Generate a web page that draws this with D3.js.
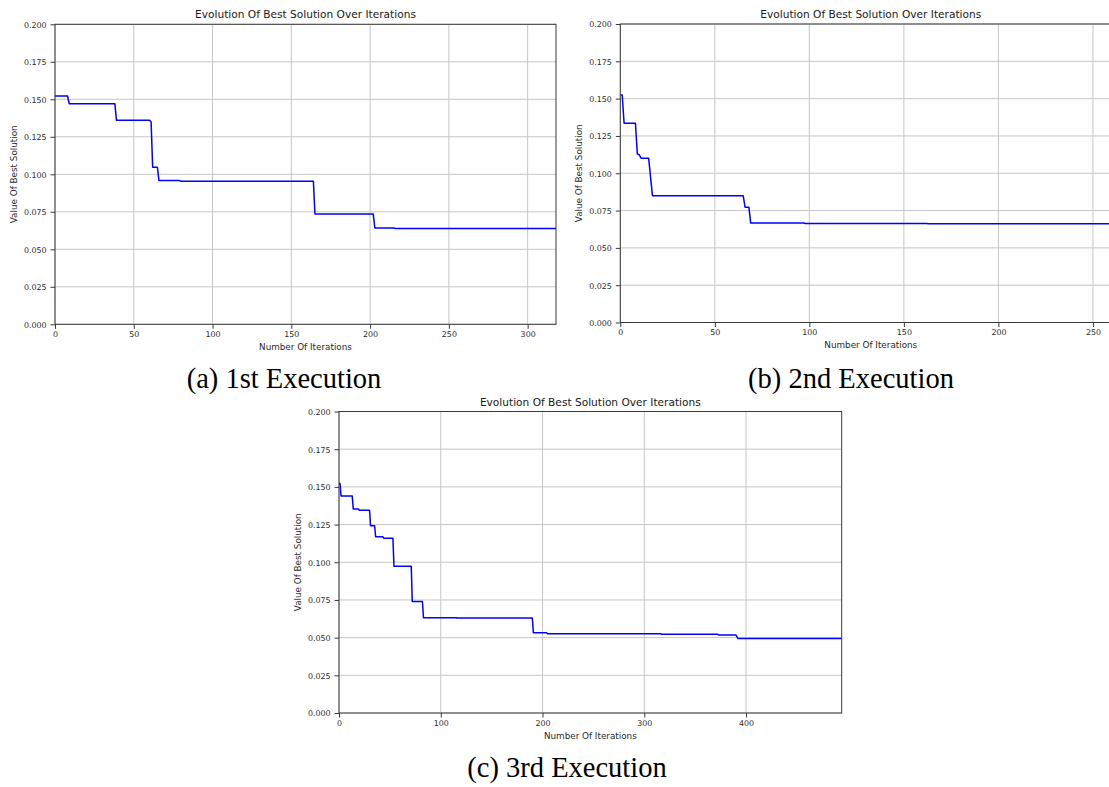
<!DOCTYPE html>
<html>
<head>
<meta charset="utf-8">
<script src="https://cdn.jsdelivr.net/npm/d3@7/dist/d3.min.js"></script>
<style>
  html, body { margin: 0; padding: 0; background: #ffffff; }
  svg { display: block; }
</style>
</head>
<body>
<svg id="fig" width="1109" height="787"></svg>
<script>
// Best-so-far objective value at the iterations where it changes (three executions)
const run1Iter = [0, 8, 9, 38, 39, 60, 61, 62, 65, 66, 79, 80, 164, 165, 202, 203, 215, 216, 318];
const run1Best = [0.1522, 0.1522, 0.1471, 0.1471, 0.1361, 0.1361, 0.1349, 0.1047, 0.1047, 0.0958, 0.0958, 0.0954, 0.0954, 0.0736, 0.0736, 0.0642, 0.0642, 0.0639, 0.0639];

const run2Iter = [0, 1, 2, 8, 9, 10, 11, 15, 16, 17, 65, 66, 68, 69, 97, 98, 162, 163, 265];
const run2Best = [0.1525, 0.1525, 0.1335, 0.1335, 0.1130, 0.1124, 0.1101, 0.1101, 0.0975, 0.0850, 0.0850, 0.0773, 0.0773, 0.0666, 0.0666, 0.0663, 0.0663, 0.0661, 0.0661];

const run3Iter = [0, 1, 2, 13, 14, 19, 20, 30, 31, 35, 36, 43, 44, 53, 54, 71, 72, 82, 83, 115, 116, 190, 191, 204, 205, 316, 317, 372, 373, 390, 392, 494];
const run3Best = [0.1522, 0.1522, 0.1440, 0.1440, 0.1354, 0.1354, 0.1345, 0.1345, 0.1242, 0.1242, 0.1169, 0.1169, 0.1160, 0.1160, 0.0974, 0.0974, 0.0740, 0.0740, 0.0632, 0.0632, 0.0630, 0.0630, 0.0533, 0.0533, 0.0526, 0.0526, 0.0522, 0.0522, 0.0518, 0.0518, 0.0495, 0.0495];

// Axis extents and tick labels
const runMaxIter = [318, 265, 494];
const yTicks = [0, 0.025, 0.05, 0.075, 0.1, 0.125, 0.15, 0.175, 0.2];
const xTicks1 = [0, 50, 100, 150, 200, 250, 300];
const xTicks2 = [0, 50, 100, 150, 200, 250];
const xTicks3 = [0, 100, 200, 300, 400];

// Text
const chartTitle = "Evolution Of Best Solution Over Iterations";
const xAxisLabel = "Number Of Iterations";
const yAxisLabel = "Value Of Best Solution";
const captions = ["(a) 1st Execution", "(b) 2nd Execution", "(c) 3rd Execution"];

const svg = d3.select("#fig");
const SANS = "'DejaVu Sans', Verdana, sans-serif";
const SERIF = "'Liberation Serif', 'Times New Roman', serif";

function drawPanel(cfg) {
  const g = svg.append("g");
  const bottom = cfg.top + cfg.height;
  const right = cfg.left + cfg.width;

  const x = d3.scaleLinear().domain([0, cfg.xMax]).range([cfg.left, right]);
  const y = d3.scaleLinear().domain([0, 0.2]).range([bottom, cfg.top]);

  // grid
  const grid = g.append("g").attr("stroke", "#c6c6c6").attr("stroke-width", 1);
  grid.selectAll("line.gx").data(cfg.xTicks).join("line")
    .attr("class", "gx")
    .attr("x1", d => x(d)).attr("x2", d => x(d))
    .attr("y1", cfg.top).attr("y2", bottom);
  grid.selectAll("line.gy").data(yTicks).join("line")
    .attr("class", "gy")
    .attr("x1", cfg.left).attr("x2", right)
    .attr("y1", d => y(d)).attr("y2", d => y(d));

  // best-solution trace
  const pts = cfg.iter.map((it, i) => [it, cfg.best[i]]);
  g.append("path")
    .datum(pts)
    .attr("fill", "none")
    .attr("stroke", "#0000ff")
    .attr("stroke-width", 1.5)
    .attr("stroke-linejoin", "round")
    .attr("d", d3.line().x(d => x(d[0])).y(d => y(d[1])));

  // frame
  g.append("rect")
    .attr("x", cfg.left).attr("y", cfg.top)
    .attr("width", cfg.width).attr("height", cfg.height)
    .attr("fill", "none").attr("stroke", "#3a3a3a").attr("stroke-width", 1);

  // x axis
  const ax = g.append("g")
    .attr("transform", `translate(0,${bottom})`)
    .call(d3.axisBottom(x).tickValues(cfg.xTicks).tickFormat(d3.format("d")).tickSize(4.5));
  ax.select(".domain").remove();
  ax.selectAll(".tick line").attr("stroke", "#3a3a3a");
  ax.selectAll(".tick text")
    .attr("y", 12.9).attr("dy", 0)
    .attr("fill", "#2a2a2a")
    .style("font-family", SANS).style("font-size", "7.9px");

  // y axis
  const ay = g.append("g")
    .attr("transform", `translate(${cfg.left},0)`)
    .call(d3.axisLeft(y).tickValues(yTicks).tickFormat(d3.format(".3f")).tickSize(4.5));
  ay.select(".domain").remove();
  ay.selectAll(".tick line").attr("stroke", "#3a3a3a");
  ay.selectAll(".tick text")
    .attr("x", -8.5).attr("dy", "0.36em")
    .attr("fill", "#2a2a2a")
    .style("font-family", SANS).style("font-size", "7.9px");

  // title and axis labels
  g.append("text")
    .attr("x", cfg.left + cfg.width / 2)
    .attr("y", cfg.top - 6)
    .attr("text-anchor", "middle")
    .attr("fill", "#1a1a1a")
    .style("font-family", SANS).style("font-size", "10.6px")
    .text(chartTitle);

  g.append("text")
    .attr("x", cfg.left + cfg.width / 2)
    .attr("y", bottom + 25.8)
    .attr("text-anchor", "middle")
    .attr("fill", "#2a2a2a")
    .style("font-family", SANS).style("font-size", "8.8px")
    .text(xAxisLabel);

  g.append("text")
    .attr("transform", `translate(${cfg.left - 38.5},${cfg.top + cfg.height / 2}) rotate(-90)`)
    .attr("text-anchor", "middle")
    .attr("fill", "#2a2a2a")
    .style("font-family", SANS).style("font-size", "8.8px")
    .text(yAxisLabel);

  // caption below the panel
  svg.append("text")
    .attr("x", cfg.captionX)
    .attr("y", cfg.captionY)
    .attr("text-anchor", "middle")
    .attr("fill", "#000")
    .style("font-family", SERIF).style("font-size", "28.5px")
    .text(cfg.caption);
}

drawPanel({
  left: 55, top: 24.3, width: 501, height: 300,
  xMax: runMaxIter[0], xTicks: xTicks1, iter: run1Iter, best: run1Best,
  caption: captions[0], captionX: 284, captionY: 388
});

drawPanel({
  left: 620.3, top: 24, width: 501, height: 298.5,
  xMax: runMaxIter[1], xTicks: xTicks2, iter: run2Iter, best: run2Best,
  caption: captions[1], captionX: 851, captionY: 388
});

drawPanel({
  left: 339, top: 411.5, width: 502.7, height: 301.5,
  xMax: runMaxIter[2], xTicks: xTicks3, iter: run3Iter, best: run3Best,
  caption: captions[2], captionX: 567, captionY: 777
});
</script>
</body>
</html>
